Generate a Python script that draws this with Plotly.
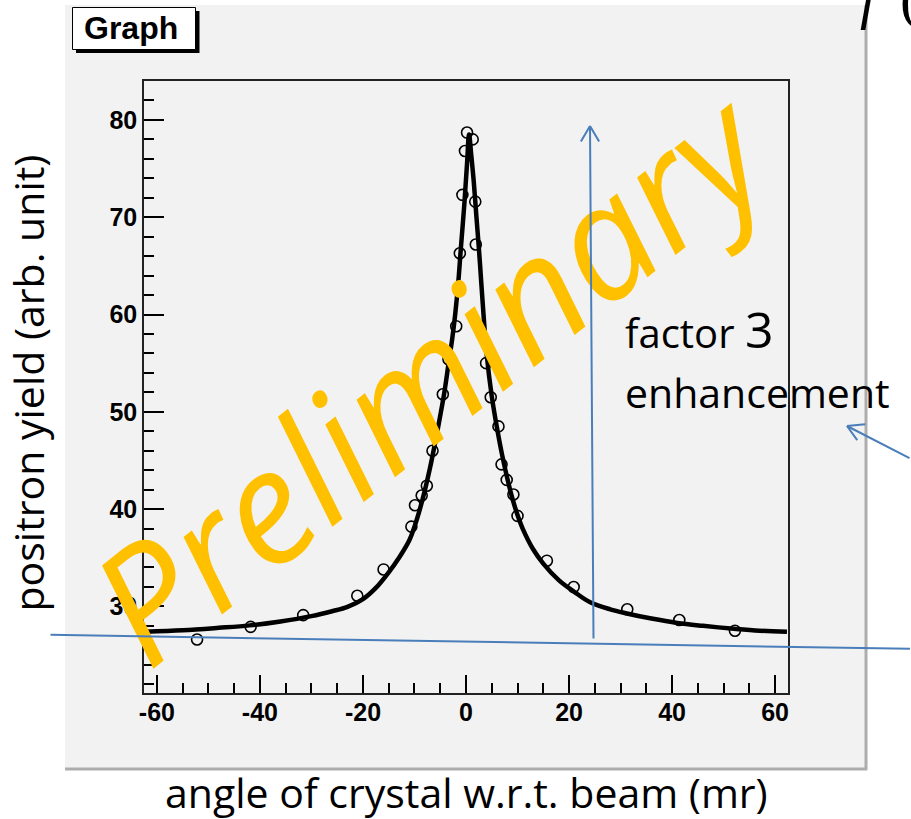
import plotly.graph_objects as go

# Measured positron yield vs. crystal angle
angle_mr = [-52.2, -41.8, -31.6, -21.1, -16.0, -10.6, -9.9, -8.6, -7.6, -6.5,
            -4.5, -3.4, -1.9, -1.2, -0.7, -0.2, 0.2, 1.3, 1.8, 1.9,
            3.9, 4.8, 6.3, 6.9, 7.9, 9.2, 10.0, 15.7, 20.9, 31.3, 41.4, 52.2]
yield_pts = [26.6, 27.9, 29.1, 31.1, 33.8, 38.2, 40.4, 41.4, 42.4, 46.0,
             51.8, 55.4, 58.8, 66.3, 72.3, 76.8, 78.7, 78.0, 71.6, 67.2,
             55.0, 51.5, 48.5, 44.6, 43.0, 41.5, 39.3, 34.7, 32.0, 29.7, 28.6, 27.5]

# Fitted curve, sampled along the angle axis
fit_angle = [-62.3, -55, -48, -42, -36, -30, -26, -23, -20, -17.5, -15, -13, -11, -10,
             -9, -8, -7, -6, -5, -4.2, -3.4, -2.7, -2.1, -1.5, -1.0, -0.3, 0.2, 0.6,
             1.0, 1.5, 2.0, 2.5, 3.0, 3.4, 4.0, 5.0, 6.0, 7.0, 8.0, 9.0, 10.0, 11.0,
             13.0, 15.0, 18.0, 21.0, 24.0, 28.0, 31.0, 36.0, 41.0, 46.0, 52.0, 57.0, 62.3]
fit_yield = [27.4, 27.55, 27.8, 28.05, 28.45, 29.0, 29.5, 29.95, 30.75, 31.9, 33.5, 35.0, 36.8, 38.2,
             39.9, 41.9, 44.2, 46.8, 49.6, 52.0, 54.9, 57.4, 60.0, 63.3, 66.8, 71.5, 75.5, 78.5,
             76.5, 73.7, 70.2, 66.8, 63.0, 60.0, 56.0, 51.6, 48.4, 45.6, 43.2, 41.1, 39.4, 38.0,
             35.9, 34.4, 32.7, 31.5, 30.45, 29.7, 29.3, 28.75, 28.3, 28.0, 27.7, 27.5, 27.4]

x_tick_vals = [-60, -40, -20, 0, 20, 40, 60]
x_tick_text = ["-60", "-40", "-20", "0", "20", "40", "60"]
y_tick_vals = [30, 40, 50, 60, 70, 80]

W, H = 911, 819
L, R, T, B = 144, 788, 81, 693  # plot frame in pixels


def px(x):
    return (x - L) / (R - L)


def py(y):
    return (B - y) / (B - T)


fig = go.Figure()
fig.add_trace(go.Scatter(x=fit_angle, y=fit_yield, mode="lines",
                         line=dict(color="black", width=4.5, shape="spline", smoothing=1.0),
                         hoverinfo="skip", showlegend=False))
fig.add_trace(go.Scatter(x=angle_mr, y=yield_pts, mode="markers",
                         marker=dict(symbol="circle-open", size=11, color="black",
                                     line=dict(width=1.6, color="black")),
                         showlegend=False))

tick_font = dict(family="Liberation Sans", size=25, color="black", weight="bold")
fig.update_xaxes(range=[-62.5, 62.5], tickvals=x_tick_vals, ticktext=x_tick_text,
                 ticks="inside", ticklen=18, ticklabelstandoff=-4,
                 tickwidth=1.5, tickcolor="black", showgrid=False, zeroline=False,
                 showline=True, mirror=True, linecolor="#222", linewidth=1.5,
                 tickfont=tick_font,
                 minor=dict(dtick=5, ticks="inside", ticklen=10, tickwidth=1.5,
                            tickcolor="black", showgrid=False))
fig.update_yaxes(range=[21.1, 84.0], tickvals=y_tick_vals, ticks="inside", ticklen=20,
                 tickwidth=1.5, tickcolor="black", showgrid=False, zeroline=False,
                 showline=True, mirror=True, linecolor="#222", linewidth=1.5,
                 tickfont=tick_font,
                 minor=dict(dtick=2, ticks="inside", ticklen=10, tickwidth=1.5,
                            tickcolor="black", showgrid=False))

shapes = [
    # canvas panel
    dict(type="rect", xref="paper", yref="paper", x0=px(65), x1=px(867), y0=py(769), y1=py(5),
         fillcolor="#f2f2f2", line=dict(width=0), layer="below"),
    dict(type="line", xref="paper", yref="paper", x0=px(866), x1=px(866), y0=py(770), y1=py(5),
         line=dict(color="#adadad", width=3), layer="below"),
    dict(type="line", xref="paper", yref="paper", x0=px(65), x1=px(867), y0=py(769), y1=py(769),
         line=dict(color="#adadad", width=3), layer="below"),
    # title box with shadow
    dict(type="rect", xref="paper", yref="paper", x0=px(76), x1=px(199.5), y0=py(53), y1=py(11),
         fillcolor="black", line=dict(width=0), layer="below"),
    dict(type="rect", xref="paper", yref="paper", x0=px(72.5), x1=px(195.5), y0=py(49.5), y1=py(7.5),
         fillcolor="white", line=dict(color="black", width=1), layer="below"),
]

annotations = [
    dict(text="Graph", x=px(131), y=py(28), xref="paper", yref="paper", showarrow=False,
         font=dict(family="Liberation Sans", size=32, color="black", weight="bold"),
         xanchor="center", yanchor="middle"),
    dict(text="positron yield (arb. unit)", x=px(27), y=py(383.5), xref="paper", yref="paper",
         showarrow=False, textangle=-90, xanchor="center", yanchor="middle",
         font=dict(family="Open Sans", size=41, color="black")),
    dict(text="angle of crystal w.r.t. beam (mr)", x=px(466), y=py(792), xref="paper", yref="paper",
         showarrow=False, xanchor="center", yanchor="middle",
         font=dict(family="Open Sans", size=41, color="black")),
    dict(text="f", x=px(858), y=py(-2), xref="paper", yref="paper", showarrow=False,
         xanchor="left", yanchor="middle",
         font=dict(family="Liberation Serif", size=58, color="black", style="italic")),
    dict(text="(", x=px(898), y=py(-2), xref="paper", yref="paper", showarrow=False,
         xanchor="left", yanchor="middle",
         font=dict(family="Liberation Serif", size=58, color="black")),
    dict(text="Preliminary", x=px(428), y=py(372), xref="paper", yref="paper", showarrow=False,
         textangle=-38.4, xanchor="center", yanchor="middle",
         font=dict(family="Open Sans", size=158, color="#FFC000", style="italic", weight=500)),
    dict(text="factor <span style='font-size:50px'>3</span>", x=px(623), y=py(329),
         xref="paper", yref="paper", showarrow=False, xanchor="left", yanchor="middle",
         font=dict(family="Open Sans", size=40, color="black")),
    dict(text="enhancement", x=px(623), y=py(392), xref="paper", yref="paper", showarrow=False,
         xanchor="left", yanchor="middle",
         font=dict(family="Open Sans", size=41, color="black")),
]


def seg(x0, y0, x1, y1):
    """Blue line segment drawn as an arrow annotation from (x0,y0) to (x1,y1) in pixels."""
    return dict(text="", x=px(x1), y=py(y1), xref="paper", yref="paper", showarrow=True,
                ax=x0 - x1, ay=y0 - y1, arrowhead=0, arrowwidth=2, arrowcolor="#4a7ebb",
                standoff=0, startstandoff=0)


annotations += [
    seg(49, 634.8, 911, 648.8),
    seg(593.5, 640, 590, 126),
    seg(580, 143, 590, 126),
    seg(600, 143, 590, 126),
    seg(911, 459, 847, 426),
    seg(866.7, 424, 847, 426),
    seg(858.3, 441.7, 847, 426),
]

fig.update_layout(width=W, height=H, margin=dict(l=L, r=W - R, t=T, b=H - B),
                  paper_bgcolor="white", plot_bgcolor="#f2f2f2",
                  shapes=shapes, annotations=annotations, showlegend=False)

fig.write_html("out.html")
